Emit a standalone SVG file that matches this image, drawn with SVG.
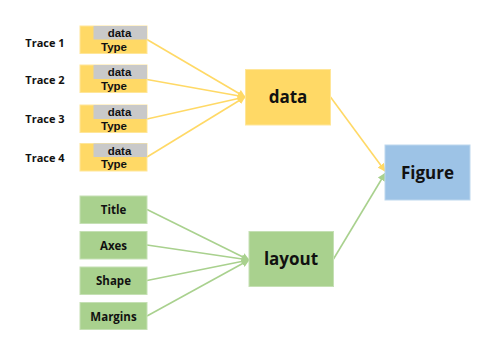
<svg xmlns="http://www.w3.org/2000/svg" width="496" height="363" viewBox="0 0 496 363">
<style>
text{font-family:"Open Sans","Noto Sans","Liberation Sans",sans-serif;font-weight:bold;fill:#111;text-anchor:middle}
.y{fill:#FFD966;stroke:#FFE699;stroke-width:1}
.g{fill:#A9D18E;stroke:#C5E0B4;stroke-width:1}
.b{fill:#9DC3E6;stroke:#BDD7EE;stroke-width:1}
.gr{fill:#C9C9C9}
.lab{font-size:11px}
.small{font-size:11.5px}
.dt{font-family:"Liberation Sans","DejaVu Sans",sans-serif;font-size:11.5px}
.big{font-size:17px}
.cy{stroke:#FFD966;stroke-width:1.6;fill:none;marker-end:url(#ay)}
.cg{stroke:#A9D18E;stroke-width:1.6;fill:none;marker-end:url(#ag)}
</style>
<defs>
<marker id="ay" viewBox="0 0 10 10" refX="9" refY="5" markerWidth="5" markerHeight="5" orient="auto" markerUnits="strokeWidth"><path d="M0,0 L10,5 L0,10 z" fill="#FFD966"/></marker>
<marker id="ag" viewBox="0 0 10 10" refX="9" refY="5" markerWidth="5" markerHeight="5" orient="auto" markerUnits="strokeWidth"><path d="M0,0 L10,5 L0,10 z" fill="#A9D18E"/></marker>
</defs>
<rect width="496" height="363" fill="#fff"/>
<g id="connectors">
<line class="cy" x1="147" y1="39.5" x2="245" y2="97"/>
<line class="cy" x1="147" y1="79.5" x2="245" y2="97"/>
<line class="cy" x1="147" y1="119" x2="245" y2="97"/>
<line class="cy" x1="147" y1="157" x2="245" y2="97"/>
<line class="cg" x1="147" y1="209.5" x2="249" y2="260"/>
<line class="cg" x1="147" y1="245" x2="249" y2="260"/>
<line class="cg" x1="147" y1="280.5" x2="249" y2="260"/>
<line class="cg" x1="147" y1="316" x2="249" y2="260"/>
<line class="cy" x1="330.5" y1="97" x2="385" y2="171"/>
<line class="cg" x1="333.5" y1="259" x2="385" y2="173.5"/>
</g>
<g id="trace1">
<text class="lab" x="45" y="46.5">Trace 1</text>
<rect class="y" x="80" y="26" width="67" height="27.5"/>
<rect class="gr" x="93.5" y="26" width="53.5" height="13.5"/>
<text class="dt" x="119.5" y="37">data</text>
<text class="dt" x="114" y="50.5">Type</text>
</g>
<g id="trace2">
<text class="lab" x="45" y="83.5">Trace 2</text>
<rect class="y" x="80" y="65" width="67" height="27.5"/>
<rect class="gr" x="93.5" y="65" width="53.5" height="14"/>
<text class="dt" x="119.5" y="76">data</text>
<text class="dt" x="114" y="89.5">Type</text>
</g>
<g id="trace3">
<text class="lab" x="45" y="123">Trace 3</text>
<rect class="y" x="80" y="105" width="67" height="27.5"/>
<rect class="gr" x="93.5" y="105" width="53.5" height="14"/>
<text class="dt" x="119.5" y="116">data</text>
<text class="dt" x="114" y="129.5">Type</text>
</g>
<g id="trace4">
<text class="lab" x="45" y="161.5">Trace 4</text>
<rect class="y" x="80" y="143.5" width="67" height="27.5"/>
<rect class="gr" x="93.5" y="143.5" width="53.5" height="13.5"/>
<text class="dt" x="119.5" y="154.5">data</text>
<text class="dt" x="114" y="168">Type</text>
</g>
<g id="title">
<rect class="g" x="80" y="196" width="67" height="27.5"/>
<text class="small" x="113.5" y="214">Title</text>
</g>
<g id="axes">
<rect class="g" x="80" y="231.5" width="67" height="27.5"/>
<text class="small" x="113.5" y="249.5">Axes</text>
</g>
<g id="shape">
<rect class="g" x="80" y="267" width="67" height="27.5"/>
<text class="small" x="113.5" y="285">Shape</text>
</g>
<g id="margins">
<rect class="g" x="80" y="302.5" width="67" height="27"/>
<text class="small" x="113.5" y="320.5">Margins</text>
</g>
<g id="data">
<rect class="y" x="245.5" y="69.5" width="85" height="55.5"/>
<text class="big" x="288" y="103">data</text>
</g>
<g id="layout">
<rect class="g" x="249" y="231.5" width="84.5" height="55"/>
<text class="big" x="291" y="265">layout</text>
</g>
<g id="figure">
<rect class="b" x="385" y="145" width="85" height="55"/>
<text class="big" x="427.5" y="178.5">Figure</text>
</g>
</svg>
